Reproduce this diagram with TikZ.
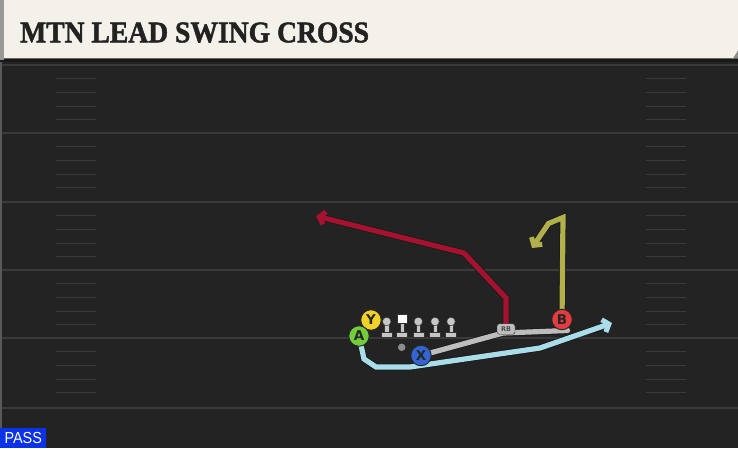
\documentclass[tikz,border=0pt]{standalone}
\usepackage{fontspec}
\setmainfont{DejaVu Sans}
\newfontfamily\titlefont{Liberation Serif}[BoldFeatures={FakeBold=1.6}]
\newfontfamily\passfont{Liberation Sans}
\usetikzlibrary{arrows.meta}
\definecolor{field}{HTML}{232323}
\definecolor{yard}{HTML}{3A3A3A}
\definecolor{cream}{HTML}{F4F1EA}
\definecolor{titletext}{HTML}{222222}
\definecolor{passblue}{HTML}{0B32E6}
\definecolor{redroute}{HTML}{A5122F}
\definecolor{oliveroute}{HTML}{B2B04A}
\definecolor{cyanroute}{HTML}{A9DDEA}
\definecolor{grayroute}{HTML}{BDBDBD}
\definecolor{agreen}{HTML}{72CC3C}
\definecolor{yyellow}{HTML}{F2D22A}
\definecolor{xblue}{HTML}{3364D2}
\definecolor{bred}{HTML}{E23B40}
\definecolor{lineman}{HTML}{C6C6C6}
\pgfdeclarelayer{fieldlayer}
\pgfdeclarelayer{routelayer}
\pgfsetlayers{fieldlayer,routelayer,main}
\tikzset{
  yardline/.style={draw=yard, line width=1.6pt},
  hashmark/.style={draw=yard, line width=1.2pt},
  route/.style={line width=5.2pt, line join=miter, line cap=butt,
    preaction={draw=black!90, line width=6.8pt}},
  tip/.style={-{Straight Barb[length=5.5pt, width=13pt, line width=5pt]}},
  player/.style={circle, draw=black!85, line width=0.9pt, minimum size=20.5pt,
    inner sep=0pt, text=black!85, font=\bfseries\fontsize{13.5}{13.5}\selectfont},
  linemanhead/.style={circle, fill=lineman, draw=black!80, line width=0.4pt,
    minimum size=8.5pt, inner sep=0pt},
  linemanpart/.style={fill=lineman, draw=black!80, line width=0.4pt},
}
\begin{document}
\begin{tikzpicture}[x=1pt,y=-1pt]
\useasboundingbox (0,0) rectangle (738,448);
\begin{pgfonlayer}{fieldlayer}
\fill[field] (0,0) rectangle (738,448);
\fill[black!65] (0,62) rectangle (2,448);
\foreach \y in {65,133,202,270,338,408} {
  \draw[yardline] (2,\y) -- (738,\y);
}
\foreach \b in {65,133,202,270,338} {
  \foreach \k in {1,2,3,4} {
    \draw[hashmark] (56,\b+13.7*\k) -- (96,\b+13.7*\k);
    \draw[hashmark] (646,\b+13.7*\k) -- (686,\b+13.7*\k);
  }
}
% title bar
\fill[black!90] (0,57) rectangle (738,62);
\fill[black!40] (0,0) rectangle (4,60);
\fill[black!45] (732,58.5) -- (738,49) -- (738,58.5) -- cycle;
\fill[cream] (4,0) -- (738,0) -- (738,50) -- (733,58.3) -- (4,58.3) -- cycle;
\end{pgfonlayer}

\node[anchor=base west, inner sep=0pt, text=titletext,
  font=\titlefont\bfseries\fontsize{30}{30}\selectfont] (title) at (20,42.3)
  {\scalebox{0.92}[1]{MTN LEAD SWING CROSS}};

\node[anchor=south west, fill=passblue, text=white, minimum width=46pt,
  minimum height=20pt, inner sep=0pt, font=\passfont\fontsize{16}{16}\selectfont] (pass) at (0,448) {\scalebox{0.9}[1]{PASS}};

% offensive line
\foreach \x/\n in {386.7/l1, 418.3/l3, 435/l4, 451/l5} {
  \fill[linemanpart] (\x-2.2,323) rectangle (\x+2.2,333);
  \fill[linemanpart] (\x-5.5,332) rectangle (\x+5.5,337.5);
  \node[linemanhead] (\n) at (\x,321.5) {};
}
\fill[linemanpart] (399.8,322) rectangle (404.2,333);
\fill[linemanpart] (396.5,332) rectangle (407.5,337.5);
\node[fill=white, draw=black!80, line width=0.4pt, minimum width=9.5pt, minimum height=9pt, inner sep=0pt] (C) at (402,318.5) {};

\node[circle, fill=black!45, minimum size=7.5pt, inner sep=0pt] (QB) at (401.7,347.3) {};

\node[player, fill=yyellow] (Y) at (371,320) {Y};
\node[player, fill=agreen] (A) at (359,336) {A};
\node[player, fill=xblue] (X) at (421,355.5) {X};
\node[player, fill=bred] (B) at (562,319.5) {B};
\node[rounded corners=2.5pt, fill=grayroute, draw=black!80, line width=0.4pt,
  minimum width=18pt, minimum height=10.5pt, inner sep=0pt, text=black!70,
  font=\bfseries\fontsize{6.5}{6.5}\selectfont] (RB) at (506,329) {RB};
\coordinate (motionend) at (567.5,330.5);

\begin{pgfonlayer}{routelayer}
\draw[route, grayroute, line cap=round] (X.center) -- (503,333) -- (motionend);
\draw[route, redroute, tip] (RB.center) -- (506,298) -- (464,253) -- (316,216);
\draw[route, oliveroute, tip] (B.center) -- (563,217.5) -- (548.5,223.5) -- (532,248);
\draw[route, cyanroute, tip] (A.center) -- (364,359) -- (376,367) -- (410,367) -- (540,348) -- (612,323);
\end{pgfonlayer}
\end{tikzpicture}
\end{document}
